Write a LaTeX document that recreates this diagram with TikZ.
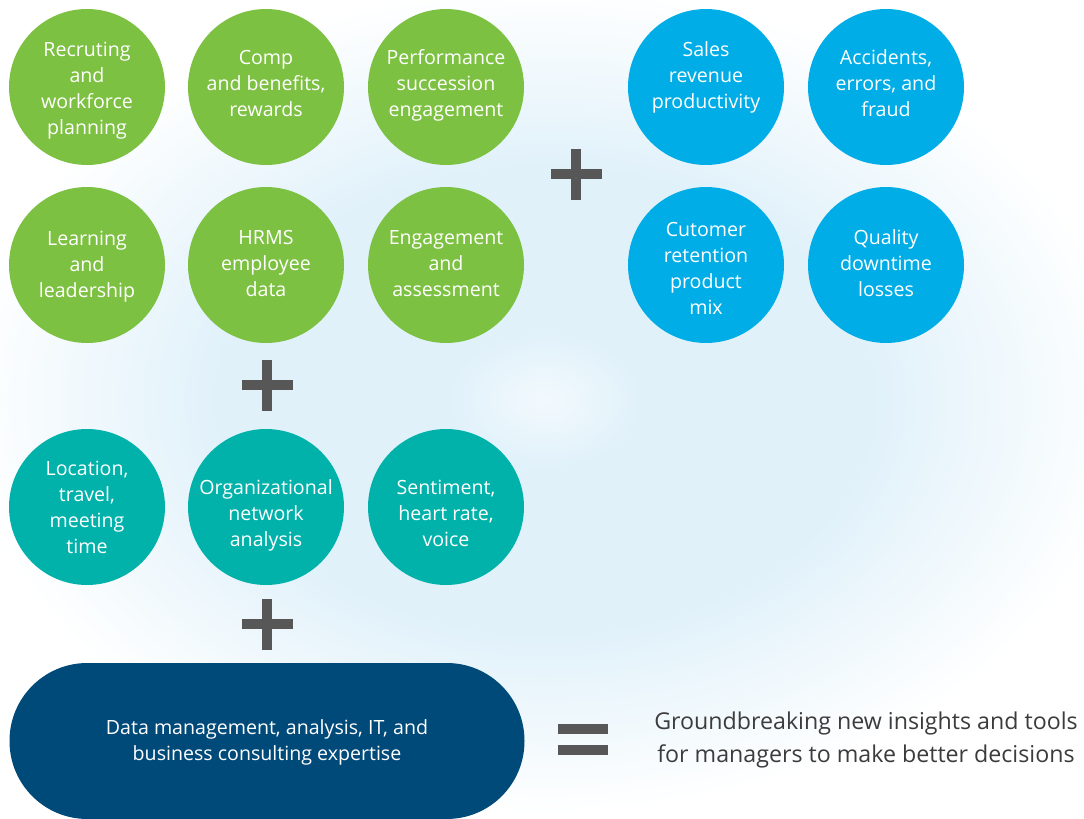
\documentclass[tikz,border=0pt]{standalone}
\usepackage{fontspec}
\setmainfont{Open Sans}
\definecolor{hrgreen}{HTML}{7DC142}
\definecolor{bizblue}{HTML}{00ADE6}
\definecolor{sensteal}{HTML}{00B2AA}
\definecolor{navy}{HTML}{004A7A}
\definecolor{opgray}{HTML}{575757}
\definecolor{txtgray}{HTML}{3C3C3C}
\definecolor{glowA}{HTML}{F2F9FD}
\definecolor{glowB}{HTML}{E0F1FA}
\pgfdeclareradialshading{glow}{\pgfpoint{0bp}{0bp}}{%
  color(0bp)=(glowA); color(4bp)=(glowB); color(13bp)=(glowB); color(23.5bp)=(white); color(25bp)=(white); color(50bp)=(white)}
\tikzset{
  bubble/.style={circle, minimum size=78pt, inner sep=0pt, text=white, align=center,
    font=\fontsize{9.8pt}{13pt}\selectfont},
  lastline/.style={text height=#1, text depth=0pt},
  hr/.style={bubble, fill=hrgreen},
  biz/.style={bubble, fill=bizblue},
  sens/.style={bubble, fill=sensteal},
  pill/.style={rectangle, rounded corners=38.9pt, minimum width=257.5pt, minimum height=78pt,
    fill=navy, text=white, align=center, inner sep=0pt, font=\fontsize{9.8pt}{13pt}\selectfont},
  result/.style={align=center, text=txtgray, inner sep=0pt, font=\fontsize{11.6pt}{16.4pt}\selectfont},
  opsign/.style={fill=opgray}
}
\begin{document}
\begin{tikzpicture}[x=0.5pt, y=-0.5pt]
\useasboundingbox (0,0) rectangle (1084,819);
\fill[white] (0,0) rectangle (1084,819);
\shade[shading=glow] (545,400) ellipse [x radius=620, y radius=440];

% HR data
\node[hr, lastline=47.3pt] (rec) at (87,87) {Recruting\\and\\workforce\\planning};
\node[hr, lastline=29.3pt] (comp) at (266,87) {Comp\\and benefits,\\rewards};
\node[hr, lastline=29.3pt] (perf) at (446,87) {Performance\\succession\\engagement};
\node[hr, lastline=32.3pt] (learn) at (87,265) {Learning\\and\\leadership};
\node[hr, lastline=31.3pt] (hrms) at (266,265) {HRMS\\employee\\data};
\node[hr, lastline=31.3pt] (eng) at (446,265) {Engagement\\and\\assessment};

% business data
\node[biz, lastline=21.3pt] (sales) at (706,87) {Sales\\revenue\\productivity};
\node[biz, lastline=29.3pt] (acc) at (886,87) {Accidents,\\errors, and\\fraud};
\node[biz, lastline=49.3pt] (cust) at (706,265) {Cutomer\\retention\\product\\mix};
\node[biz, lastline=31.3pt] (qual) at (886,265) {Quality\\downtime\\losses};

% sensor data
\node[sens, lastline=46.3pt] (loc) at (87,507) {Location,\\travel,\\meeting\\time};
\node[sens, lastline=39.3pt] (ona) at (266,507) {Organizational\\network\\analysis};
\node[sens, lastline=39.3pt] (sent) at (446,507) {Sentiment,\\heart rate,\\voice};

% expertise
\node[pill, lastline=19.3pt] (expert) at (267,741) {Data management, analysis, IT, and\\business consulting expertise};

% result
\node[result] (res) at (866,740) {Groundbreaking new insights and tools\\for managers to make better decisions};

% operators
\foreach \cx/\cy in {576/174, 267/385, 267/624} {
  \fill[opsign] (\cx-25.5,\cy-5.2) rectangle (\cx+25.5,\cy+5.2);
  \fill[opsign] (\cx-5.4,\cy-25.5) rectangle (\cx+5.4,\cy+25.5);
}
\fill[opsign] (558,724) rectangle (608,734);
\fill[opsign] (558,745) rectangle (608,755);
\end{tikzpicture}
\end{document}
